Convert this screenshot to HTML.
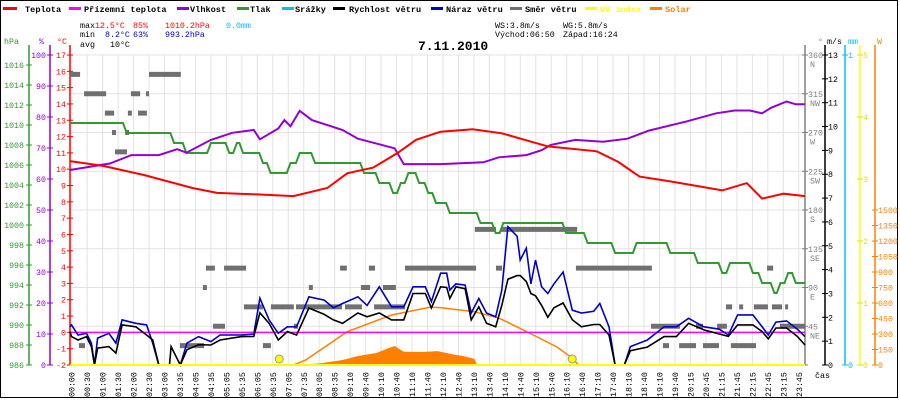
<!DOCTYPE html>
<html><head><meta charset="utf-8"><style>
html,body{margin:0;padding:0;background:#fff;}
svg{display:block;font-family:"Liberation Mono","DejaVu Sans Mono",monospace;}
</style></head><body>
<svg id="chart" width="900" height="400" viewBox="0 0 900 400" xmlns="http://www.w3.org/2000/svg">
<rect x="0.5" y="0.5" width="897" height="397" fill="#fff" stroke="#000"/>
<g id="grid"></g>
<g id="legend" font-size="8.6" font-weight="bold">
<rect x="3" y="7" width="14" height="3" fill="#f00"/><text x="25" y="12">Teplota</text>
<rect x="69" y="7" width="12" height="3" fill="#f0f"/><text x="84" y="12">Přízemní teplota</text>
<rect x="177" y="7" width="12" height="3" fill="#9400d3"/><text x="190" y="12">Vlhkost</text>
<rect x="237" y="7" width="12" height="3" fill="#339933"/><text x="250" y="12">Tlak</text>
<rect x="282" y="7" width="12" height="3" fill="#00bfff"/><text x="295" y="12">Srážky</text>
<rect x="333" y="7" width="12" height="3" fill="#000"/><text x="349" y="12">Rychlost větru</text>
<rect x="431" y="7" width="12" height="3" fill="#0000cc"/><text x="446" y="12">Náraz větru</text>
<rect x="510" y="7" width="12" height="3" fill="#707070"/><text x="525" y="12">Směr větru</text>
<rect x="585" y="7" width="12" height="3" fill="#ffff00"/><text x="600" y="12" fill="#ffff00">UV index</text>
<rect x="650" y="7" width="12" height="3" fill="#ff8000"/><text x="665" y="12" fill="#ff8000">Solar</text>
</g>
<g font-size="8.3">
<text x="80" y="28">max</text><text x="95" y="28" fill="#f00">12.5°C</text><text x="133" y="28" fill="#f00">85%</text><text x="165" y="28" fill="#f00">1010.2hPa</text><text x="226" y="28" fill="#00bfff">0.0mm</text>
<text x="80" y="37">min</text><text x="105" y="37" fill="#00c">8.2°C</text><text x="133" y="37" fill="#00c">63%</text><text x="165" y="37" fill="#00c">993.2hPa</text>
<text x="80" y="47">avg</text><text x="110" y="47">10°C</text>
<text x="495" y="28">WS:3.8m/s</text><text x="563" y="28">WG:5.8m/s</text>
<text x="495" y="37">Východ:06:50</text><text x="563" y="37">Západ:16:24</text>
</g>
<text x="418" y="50" font-size="13" font-weight="bold">7.11.2010</text>
<g id="axes" font-size="8.3"></g>
<g id="marks"></g>
</svg>
<script>
// ---- data ----
const timeLabels = ["00:00","00:30","01:00","01:30","02:00","02:30","03:00","03:35","04:05","04:35","05:05","05:35","06:05","06:35","07:05","07:35","08:05","08:35","09:10","09:40","10:10","10:40","11:10","11:40","12:10","12:40","13:10","13:40","14:10","14:40","15:10","15:40","16:10","16:40","17:10","17:40","18:10","18:40","19:10","19:40","20:15","20:45","21:15","21:45","22:15","22:45","23:15","23:45"];
const tempT = [0,1.08,2.4,4.0,4.8,6.2,7.3,8.4,9.05,9.9,10.7,11.3,12.1,13.15,14.1,15.6,17.2,17.9,18.6,19.6,21.3,22.1,22.6,23.3,24];
const tempV = [10.5,10.2,9.65,8.85,8.55,8.45,8.35,8.85,9.75,10.1,11.0,11.8,12.3,12.45,12.2,11.4,11.1,10.45,9.55,9.25,8.7,9.15,8.2,8.5,8.35];
const humT = [0,1.3,2.0,2.9,3.5,3.8,4.6,5.3,6.0,6.2,6.8,7.0,7.2,7.5,7.9,8.9,9.4,10.6,10.9,12.1,13.5,14.0,14.9,15.4,15.7,16.5,17.4,18.2,18.9,20.1,21.1,21.7,22.2,22.6,22.9,23.4,23.7,24];
const humV = [62.9,65,67.7,67.7,69.6,68.5,72.6,74.9,75.8,72.8,76.3,79,77,82,79,75.8,73,69.9,64.8,64.8,65.4,67,67.7,69.3,71,72.6,72,73,75.6,78.5,81.2,82.1,82.1,81.2,83,85,84.1,84.1];
const pressT = [0,1.85,3.4,3.8,4.6,5.2,5.45,5.65,6.3,6.55,7.2,7.5,8.0,9.6,10.1,10.55,10.8,11.05,11.4,11.7,11.95,12.4,13.4,13.9,14.15,16.2,16.9,17.8,18.5,19.6,20.5,21.3,21.55,22.3,22.6,23.0,23.2,23.45,23.7];
const pressV = [1010.2,1009.2,1008.2,1007.2,1008.2,1007.2,1008.2,1007.2,1006.2,1005.2,1006.2,1007.2,1006.2,1005.2,1004.2,1003.2,1004.2,1005.2,1004.2,1003.2,1002.2,1001.2,1000.2,999.2,1000.2,999.2,998.2,997.2,998.2,997.2,996.2,995.2,996.2,995.2,994.2,993.2,994.2,995.2,994.2];
const windT = [0,0.05,0.26,0.54,0.7,0.8,0.9,1.27,1.5,1.7,2.15,2.5,2.7,2.9,3.25,3.3,3.6,3.82,4.2,4.6,4.9,5.6,6.0,6.2,6.5,6.8,7.1,7.4,7.8,8.3,8.6,8.9,9.4,9.7,10.1,10.5,10.9,11.2,11.6,11.8,12.1,12.3,12.4,12.6,12.9,13.1,13.35,13.6,13.9,14.1,14.3,14.6,14.7,14.9,15.05,15.2,15.4,15.6,15.8,16.1,16.4,16.7,17.1,17.3,17.6,17.8,18.1,18.3,18.85,19.4,19.8,20.2,20.7,21.2,21.5,21.8,22.3,22.6,22.8,23.05,23.4,23.75,24];
const gustV = [1.6,1.68,1.26,1.33,0.92,0,1.13,1.33,0.92,1.89,1.75,1.68,0.92,0,0,0,0,0.92,1.19,0.98,1.26,1.26,1.3,2.8,1.89,1.33,1.6,1.6,2.86,2.72,2.4,2.58,2.86,2.5,3.28,2.44,2.44,3.28,3.28,2.66,3.85,3.85,3.14,3.4,3.35,2.18,2.79,2.18,2.02,3.14,5.8,5.4,4.4,4.9,3.4,4.4,3.28,3.0,3.4,3.9,2.3,2.18,2.25,2.58,1.6,0,0,0.77,1.05,1.6,1.6,1.96,1.6,1.5,1.26,2.1,2.1,1.6,1.26,1.8,1.85,1.5,1.19];
const speedV = [1.4,1.19,1.05,1.19,0.77,0,0.71,0.77,0.5,1.68,1.6,1.26,1.05,0,0,0.77,0,0.64,0.85,0.84,1.05,1.19,1.2,2.19,1.75,1.05,1.4,1.26,2.39,2.12,1.89,1.75,2.18,2.02,2.18,1.89,1.89,3.0,3.0,2.39,3.28,3.25,2.79,3.28,3.2,1.89,2.44,1.75,1.6,2.5,3.6,3.75,3.75,3.5,3.0,2.9,2.5,2.0,2.4,2.6,1.9,1.6,1.7,1.7,1.26,0,0,0.6,0.75,1.19,1.19,1.75,1.47,1.3,1.2,1.68,1.68,1.4,1.1,1.55,1.55,1.2,0.84];
const dirStart = [0,2.58,0.46,1.99,2.48,1.14,1.89,2.22,1.37,1.8,1.47,4.44,5.03,8.82,9.76,10.94,13.91,16.52,22.76,13.22,14.07,4.34,7.8,9.5,10.22,5.68,6.56,7.38,8.98,9.93,21.42,21.85,22.33,22.92,23.35,4.67,7.31,18.97,20.44,21.13,23.18,0.29,3.59,6.3,19.36,19.89,20.67,21.58];
const dirEnd   = [0.33,3.62,1.18,2.29,2.58,1.44,2.02,2.51,1.5,1.93,1.86,4.73,5.75,9.04,9.96,13.26,14.11,19.0,22.96,13.91,16.56,4.47,7.93,9.8,10.64,6.3,7.31,8.88,9.53,10.94,21.62,21.98,22.79,23.25,23.44,5.06,7.44,19.92,20.67,21.45,24,0.49,4.38,6.56,19.56,20.44,21.19,22.4];
const dirDeg   = [337.5,337.5,315,315,315,292.5,292.5,292.5,270,270,247.5,112.5,112.5,112.5,112.5,112.5,112.5,112.5,112.5,157.5,157.5,90,90,90,90,67.5,67.5,67.5,67.5,67.5,67.5,67.5,67.5,67.5,67.5,45,45,45,45,45,45,22.5,22.5,22.5,22.5,22.5,22.5,22.5];
const solarT = [7.4,8.2,8.9,9.4,10.0,10.4,10.6,10.9,11.5,12.0,12.6,12.8,13.2,13.3];
const solarV = [0,16,48,87,116,164,184,129,126,135,97,90,60,0];
const theoT = [7.3,7.7,9.05,10.5,11.75,12.1,13.2,14.0,15.0,15.9,16.4,16.6];
const theoV = [0,48,322,484,558,555,516,455,310,174,68,0];
const sunTimes = [6.833,16.4];
const groundTemp = 0;

// ---- scales ----
const X0=70, X1=805, Y0=55, Y1=365;
const xT = t => X0 + t*(X1-X0)/24;
const yC = v => Y1 - (v+2)*(Y1-Y0)/19;
const yP = v => Y1 - (v-986)*10;
const yH = v => Y1 - v*(Y1-Y0)/100;
const yW = v => Y1 - v*(Y1-Y0)/13;
const yD = v => Y1 - v*(Y1-Y0)/360;
const yS = v => Y1 - v*155/1500;
const yU = v => Y1 - v*(Y1-Y0)/5;

const NS="http://www.w3.org/2000/svg";
function mk(tag, attrs, parent){const e=document.createElementNS(NS,tag);for(const k in attrs)e.setAttribute(k,attrs[k]);parent.appendChild(e);return e;}
const grid=document.getElementById('grid'), axes=document.getElementById('axes'), marks=document.getElementById('marks');

for(let i=0;i<=8;i++){const y=Y0+i*(Y1-Y0)/8;
 const l=mk('line',{x1:X0,x2:X1,y1:y,y2:y,stroke:'#e6e1e1','stroke-width':1},grid);
 
 }
timeLabels.forEach((lab,i)=>{const x=71.7+i*15.47;
 const l=mk('line',{x1:x,x2:x,y1:Y0,y2:Y1,stroke:'#e6e1e1','stroke-width':1},grid);
 
 
 const t=mk('text',{x:0,y:0,transform:`translate(${x+3},397) rotate(-90)`,'font-size':8.3},axes);
 t.textContent=lab;
 
 });

function vaxis(x,color,w){const l=mk('line',{x1:x,x2:x,y1:Y0-10,y2:Y1,stroke:color,'stroke-width':w||1.5},axes);
 
 }
vaxis(29,'#339933');vaxis(50,'#9400d3');vaxis(70,'#f00');vaxis(805,'#808080');vaxis(825,'#000');vaxis(845,'#00bfff');vaxis(860,'#ffff00');vaxis(875,'#ff8000');
function tick(x,y,txt,color,anchor,tx,name){mk('line',{x1:x-3,x2:x+3,y1:y,y2:y,stroke:color},axes);
 const t=mk('text',{x:tx,y:y+3,fill:color,'text-anchor':anchor},axes);t.textContent=txt;
 
 }
for(let p=986;p<=1016;p+=2)tick(29,yP(p),String(p),'#339933','end',24,'hpa-tick-label');
for(let h=0;h<=100;h+=10)tick(50,yH(h),String(h),'#9400d3','end',46,'humidity-tick-label');
for(let c=-2;c<=17;c++)tick(70,yC(c),String(c),'#f00','end',66,'temp-tick-label');
for(let m=0;m<=13;m++)tick(825,yW(m),String(m),'#000','start',828,'wind-tick-label');
tick(845,yW(0),'0','#00bfff','start',848,'rain-tick-label');tick(845,Y0,'1','#00bfff','start',848,'rain-tick-label');
for(let u=0;u<=5;u++)tick(860,yU(u),String(u),'#e0e000','start',863,'uv-tick-label');
for(let s=0;s<=1500;s+=150)tick(875,yS(s),String(s),'#ff8000','start',878,'solar-tick-label');
const dirLab=[[0,'',''],[45,'45','NE'],[90,'90','E'],[135,'135','SE'],[180,'180','S'],[225,'225','SW'],[270,'270','W'],[315,'315','NW'],[360,'360','N']];
dirLab.forEach(d=>{const y=yD(d[0]);mk('line',{x1:802,x2:808,y1:y,y2:y,stroke:'#808080'},axes);
 const t=mk('text',{x:808,y:y+3,fill:'#808080'},axes);t.textContent=d[1];
 
 
 const t2=mk('text',{x:810,y:y+12,fill:'#808080'},axes);t2.textContent=d[2];
 
 });
[[4,44,'hPa','#339933'],[39,44,'%','#9400d3'],[57,44,'°C','#f00'],[818,44,'°','#808080'],[827,44,'m/s','#000'],[848,44,'mm','#00bfff'],[877,44,'W','#ff8000'],[815,378,'čas','#000']].forEach(u=>{
 const t=mk('text',{x:u[0],y:u[1],fill:u[3]},axes);t.textContent=u[2];
 
 });

function pts(T,V,ys){return T.map((t,i)=>xT(t).toFixed(1)+','+ys(V[i]).toFixed(1)).join(' ');}
const sArea=mk('polygon',{points:pts(solarT,solarV,yS)+` ${xT(solarT[solarT.length-1])},${Y1} ${xT(solarT[0])},${Y1}`,fill:'#ff8000'},marks);


const theo=mk('polyline',{points:pts(theoT,theoV,yS),fill:'none',stroke:'#ff8000','stroke-width':1.5},marks);


const gt=mk('line',{x1:X0,x2:X1,y1:yC(groundTemp),y2:yC(groundTemp),stroke:'#f0f','stroke-width':1.5},marks);


dirDeg.forEach((d,i)=>{const r=mk('rect',{x:xT(dirStart[i]),y:yD(d)-2.5,width:Math.max(3,xT(dirEnd[i])-xT(dirStart[i])),height:5,fill:'#707070'},marks);
 
 });
let pp=[];pressT.forEach((t,i)=>{const tn=i<pressT.length-1?pressT[i+1]-0.12:24;pp.push(xT(t).toFixed(1)+','+yP(pressV[i]).toFixed(1));pp.push(xT(tn).toFixed(1)+','+yP(pressV[i]).toFixed(1));});
const pl=mk('polyline',{points:pp.join(' '),fill:'none',stroke:'#339933','stroke-width':2},marks);


const hl=mk('polyline',{points:pts(humT,humV,yH),fill:'none',stroke:'#9400d3','stroke-width':2},marks);


const tl=mk('polyline',{points:pts(tempT,tempV,yC),fill:'none',stroke:'#f00','stroke-width':2},marks);


const gl=mk('polyline',{points:pts(windT,gustV,yW),fill:'none',stroke:'#0000cc','stroke-width':1.6},marks);


const wl=mk('polyline',{points:pts(windT,speedV,yW),fill:'none',stroke:'#000','stroke-width':1.6},marks);


const uv=mk('line',{x1:X0,x2:X1,y1:yU(0),y2:yU(0),stroke:'#ffff00','stroke-width':2},marks);


sunTimes.forEach(t=>{const c=mk('circle',{cx:xT(t),cy:359,r:4,fill:'#ffff00',stroke:'#999','stroke-width':1},marks);
 
 });
</script>
</body></html>
